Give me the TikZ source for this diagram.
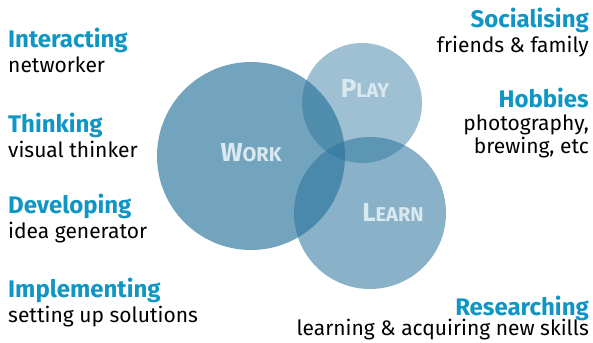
\documentclass[tikz,border=0pt]{standalone}
\usepackage{fontspec}
\setmainfont{Fira Sans}
\definecolor{bubbleblue}{RGB}{40,115,155}
\definecolor{headblue}{RGB}{16,150,196}
\definecolor{bubbletext}{RGB}{218,232,240}

\begin{document}
\begin{tikzpicture}[x=1pt,y=-1pt]

%
% Styles
%
\tikzstyle{bubble}  = [circle,fill=bubbleblue,inner sep=0pt]
\tikzstyle{bubtext} = [text=bubbletext,inner sep=0pt,font=\bfseries]
\tikzstyle{heading} = [text=headblue,inner sep=0pt,font=\fontsize{24}{27}\selectfont\bfseries]
\tikzstyle{detail}  = [text=black,inner sep=0pt,font=\fontsize{21}{24}\selectfont]

\useasboundingbox (0,0) rectangle (593,342);

% bubbles
\node[bubble,minimum size=188pt,fill opacity=0.65] (work)  at (251,156) {};
\node[bubble,minimum size=152pt,fill opacity=0.55] (learn) at (370,213) {};
\node[bubble,minimum size=120pt,fill opacity=0.45] (play)  at (362,103) {};

\node[bubtext] (worklabel)  at (251,153) {{\fontsize{26}{26}\selectfont W}{\fontsize{20}{20}\selectfont ORK}};
\node[bubtext] (playlabel)  at (365,88)  {{\fontsize{26}{26}\selectfont P}{\fontsize{20}{20}\selectfont LAY}};
\node[bubtext] (learnlabel) at (393,212) {{\fontsize{26}{26}\selectfont L}{\fontsize{20}{20}\selectfont EARN}};

% left column
\node[heading,anchor=base west] (interacting) at (8,48)  {Interacting};
\node[detail,anchor=base west]  (networker)   at (8,73)  {networker};
\node[heading,anchor=base west] (thinking)    at (8,132) {Thinking};
\node[detail,anchor=base west]  (visual)      at (8,157) {visual thinker};
\node[heading,anchor=base west] (developing)  at (8,213) {Developing};
\node[detail,anchor=base west]  (idea)        at (8,238) {idea generator};
\node[heading,anchor=base west] (implementing) at (8,297) {Implementing};
\node[detail,anchor=base west]  (setting)     at (8,322) {setting up solutions};

% right column
\node[heading,anchor=base east] (socialising) at (589,28)  {Socialising};
\node[detail,anchor=base east]  (friends)     at (589,53)  {friends \& family};
\node[heading,anchor=base east] (hobbies)     at (589,107) {Hobbies};
\node[detail,anchor=base east]  (photo)       at (589,130) {photography,};
\node[detail,anchor=base east]  (brewing)     at (589,153) {brewing, etc};
\node[heading,anchor=base east] (researching) at (589,315) {Researching};
\node[detail,anchor=base east]  (learning)    at (589,335) {learning \& acquiring new skills};

\end{tikzpicture}
\end{document}
